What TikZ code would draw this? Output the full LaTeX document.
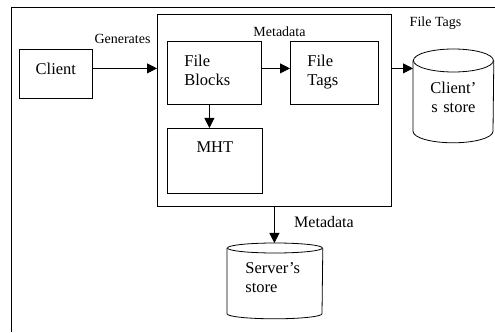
\documentclass[tikz,border=0pt]{standalone}
\usepackage{fontspec}
\setmainfont{Liberation Serif}
\usetikzlibrary{arrows.meta}

\tikzset{
    box/.style={draw, line width=0.8pt, inner ysep=0pt, anchor=north west,
        font=\fontsize{16.5}{19}\selectfont},
    store/.style={box, draw=none, inner xsep=0pt, align=center},
    lbl/.style={font=\fontsize{14}{16}\selectfont, anchor=base},
    arr/.style={line width=0.8pt, -{Triangle[length=10pt,width=10pt]}}
}

% cylinder round a node: name, x radius, y radius
\newcommand{\drum}[3]{%
    \draw[line width=0.8pt] ([yshift=-#3]#1.north) ellipse [x radius=#2, y radius=#3];
    \draw[line width=0.8pt] ([yshift=-#3]#1.north west) -- ([yshift=#3]#1.south west)
        arc [start angle=180, end angle=360, x radius=#2, y radius=#3]
        -- ([yshift=-#3]#1.north east);
}

\begin{document}
\begin{tikzpicture}[x=1pt, y=1pt]

    \useasboundingbox (0,0) rectangle (495,332);

    %frame:
    \draw[line width=0.8pt] (11,0) -- (11,325) -- (495,325);

    %boxes:
    \node[box, text width=73pt, inner xsep=0pt, align=center,
        text height=25pt, text depth=24pt] (client) at (19,283) {Client};
    \node[box, minimum width=234pt, minimum height=192pt, inner sep=0pt] (meta) at (157,318) {};
    \node[box, text width=60pt, inner xsep=17pt, align=left,
        text height=25pt, text depth=38pt] (blocks) at (167,291) {File\\Blocks};
    \node[box, text width=54pt, inner xsep=17pt, align=left,
        text height=25pt, text depth=38pt] (tags) at (290,291) {File\\Tags};
    \node[box, text width=95pt, inner xsep=0pt, align=center,
        text height=24pt, text depth=41pt] (mht) at (167,204) {MHT};

    %stores:
    \node[store, text width=80pt, text height=44pt, text depth=49pt] (cstore) at (413,283) {Client’\\s store};
    \node[store, text width=59pt, inner xsep=18pt, align=left,
        text height=30pt, text depth=45pt] (sstore) at (227,89) {Server’s\\store};
    \drum{cstore}{40pt}{11.5pt}
    \drum{sstore}{47.5pt}{5pt}

    %arrows:
    \draw[arr] ([yshift=5.5pt]client.east) -- ([yshift=5.5pt]client.east -| meta.west);
    \draw[arr] ([yshift=4.5pt]blocks.east) -- ([yshift=4.5pt]blocks.east -| tags.west);
    \draw[arr] ([xshift=-5pt]blocks.south) -- ([xshift=-5pt]blocks.south |- mht.north);
    \draw[arr] ([yshift=4.5pt]tags.east -| meta.east) -- ([yshift=4.5pt]tags.east -| cstore.west);
    \draw[arr] (meta.south) -- (meta.south |- sstore.north);

    %labels:
    \node[lbl] (gen) at (122.5,288) {Generates};
    \node[lbl] (metatop) at (279.5,295) {Metadata};
    \node[lbl] (tagtop) at (435.5,305) {File Tags};
    \node[lbl, font=\fontsize{16}{19}\selectfont] (metabot) at (324,104) {Metadata};

\end{tikzpicture}
\end{document}
